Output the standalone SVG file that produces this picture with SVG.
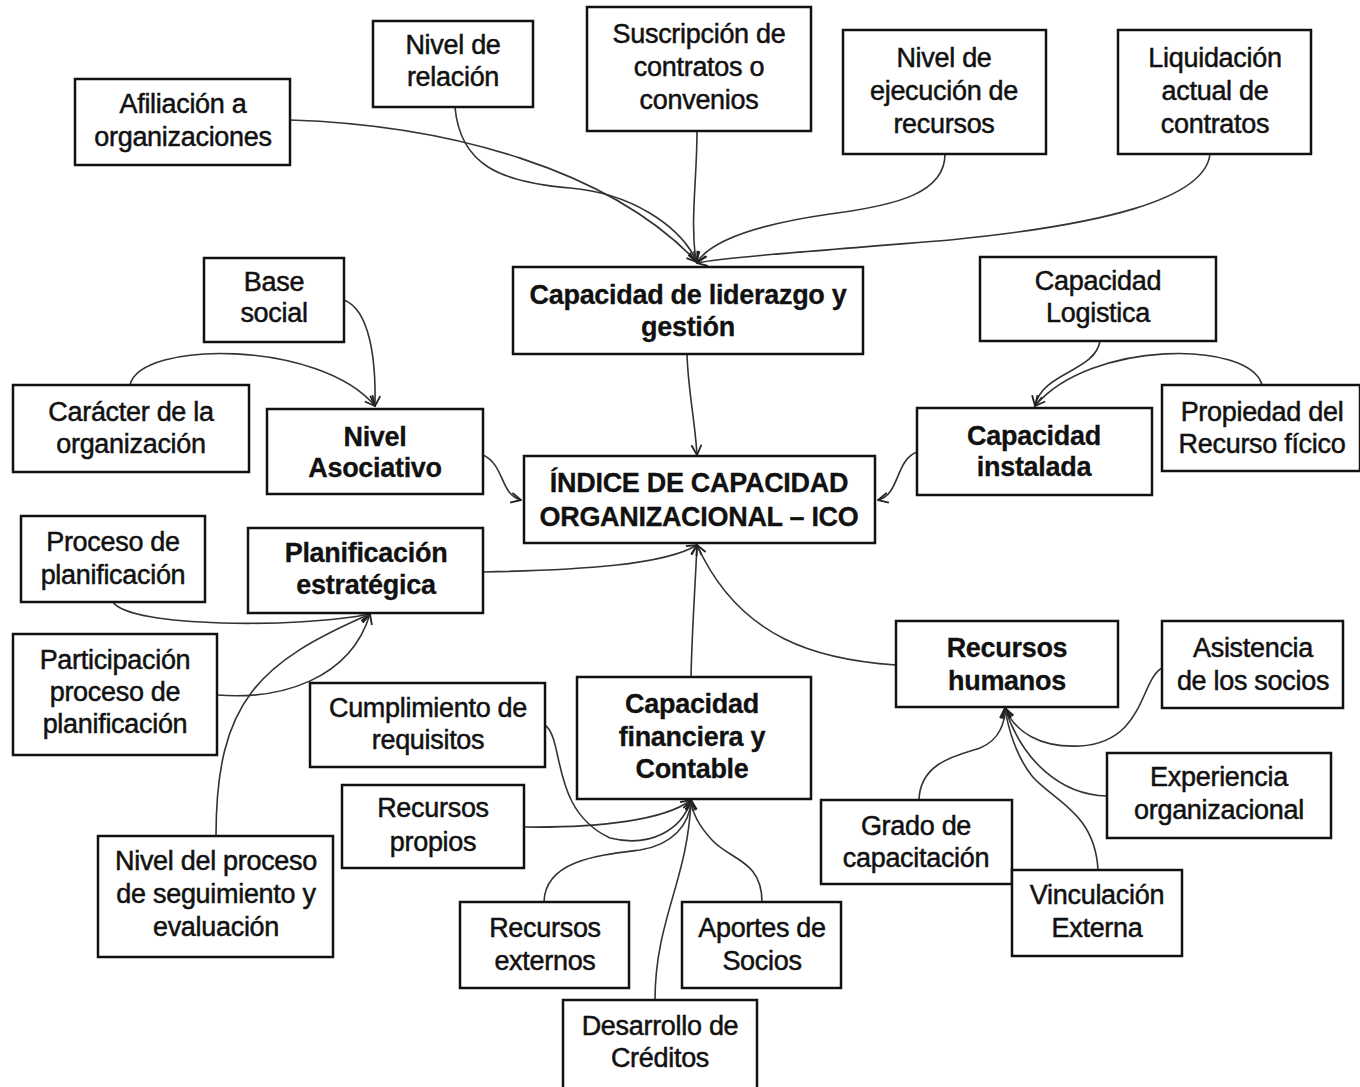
<svg xmlns="http://www.w3.org/2000/svg" width="1360" height="1087" viewBox="0 0 1360 1087">
<style>
.box{fill:#fff;stroke:#111;stroke-width:2.5}
text{font-family:"Liberation Sans",Arial,sans-serif;font-size:27px;fill:#111;text-anchor:middle;letter-spacing:-0.3px;stroke:#111;stroke-width:0.5}
.b{font-weight:bold;stroke-width:0.3}
.c{fill:none;stroke:#333;stroke-width:1.6}
</style>
<defs>
<marker id="ah" viewBox="0 0 12 12" refX="11" refY="6" markerWidth="12" markerHeight="12" markerUnits="userSpaceOnUse" orient="auto">
<path d="M1,1 L11,6 L1,11" fill="none" stroke="#222" stroke-width="1.8"/>
</marker>
</defs>
<rect width="1360" height="1087" fill="#fff"/>
<g id="connectors">
<path class="c" d="M290,120 C 450,125 610,170 697,262" marker-end="url(#ah)"/>
<path class="c" d="M455,107 C 460,165 500,182 570,188 C 630,193 680,225 697,262" marker-end="url(#ah)"/>
<path class="c" d="M697,131 C 697,180 690,220 696,262" marker-end="url(#ah)"/>
<path class="c" d="M945,154 C 945,192 900,205 830,214 C 760,224 712,240 697,262" marker-end="url(#ah)"/>
<path class="c" d="M1210,154 C 1205,200 1100,225 950,240 C 800,252 720,258 697,263" marker-end="url(#ah)"/>
<path class="c" d="M687,354 C 688,390 695,420 697,455" marker-end="url(#ah)"/>
<path class="c" d="M344,300 C 370,310 376,360 375,406" marker-end="url(#ah)"/>
<path class="c" d="M130,385 C 140,340 320,340 375,406" marker-end="url(#ah)"/>
<path class="c" d="M483,455 C 505,465 500,495 521,500" marker-end="url(#ah)"/>
<path class="c" d="M917,452 C 895,460 900,495 878,500" marker-end="url(#ah)"/>
<path class="c" d="M1100,341 C 1095,372 1042,372 1035,406" marker-end="url(#ah)"/>
<path class="c" d="M1262,385 C 1250,340 1090,340 1035,406" marker-end="url(#ah)"/>
<path class="c" d="M483,572 C 580,570 665,565 697,545" marker-end="url(#ah)"/>
<path class="c" d="M691,677 C 692,630 695,590 697,545" marker-end="url(#ah)"/>
<path class="c" d="M896,665 C 820,660 740,640 697,545" marker-end="url(#ah)"/>
<path class="c" d="M113,602 C 130,628 300,628 370,614" marker-end="url(#ah)"/>
<path class="c" d="M217,695 C 280,700 350,680 370,614" marker-end="url(#ah)"/>
<path class="c" d="M216,836 C 216,700 260,662 370,614" marker-end="url(#ah)"/>
<path class="c" d="M545,725 C 565,740 550,810 610,838 C 650,848 682,830 691,800" marker-end="url(#ah)"/>
<path class="c" d="M524,827 C 600,828 665,820 691,800" marker-end="url(#ah)"/>
<path class="c" d="M544,902 C 545,860 600,855 640,850 C 672,845 690,825 691,800" marker-end="url(#ah)"/>
<path class="c" d="M762,902 C 762,860 730,860 712,840 C 698,825 692,812 691,800" marker-end="url(#ah)"/>
<path class="c" d="M655,1000 C 655,920 688,880 691,800" marker-end="url(#ah)"/>
<path class="c" d="M1162,668 C 1140,680 1145,742 1080,746 C 1040,748 1015,732 1005,708" marker-end="url(#ah)"/>
<path class="c" d="M1107,796 C 1060,795 1022,760 1005,708" marker-end="url(#ah)"/>
<path class="c" d="M919,800 C 920,762 958,755 980,748 C 1000,740 1005,722 1005,708" marker-end="url(#ah)"/>
<path class="c" d="M1098,870 C 1095,812 1052,800 1032,776 C 1016,756 1008,728 1005,708" marker-end="url(#ah)"/>
</g>
<g id="n-afiliacion"><rect class="box" x="75" y="79" width="215" height="86"/><text x="183" y="113">Afiliación a</text><text x="183" y="146">organizaciones</text></g>
<g id="n-relacion"><rect class="box" x="373" y="21" width="160" height="86"/><text x="453" y="54">Nivel de</text><text x="453" y="86">relación</text></g>
<g id="n-suscripcion"><rect class="box" x="587" y="7" width="224" height="124"/><text x="699" y="43">Suscripción de</text><text x="699" y="76">contratos o</text><text x="699" y="109">convenios</text></g>
<g id="n-ejecucion"><rect class="box" x="843" y="30" width="203" height="124"/><text x="944" y="67">Nivel de</text><text x="944" y="100">ejecución de</text><text x="944" y="133">recursos</text></g>
<g id="n-liquidacion"><rect class="box" x="1118" y="30" width="193" height="124"/><text x="1215" y="67">Liquidación</text><text x="1215" y="100">actual de</text><text x="1215" y="133">contratos</text></g>
<g id="n-liderazgo"><rect class="box" x="513" y="267" width="350" height="87"/><text class="b" x="688" y="304">Capacidad de liderazgo y</text><text class="b" x="688" y="336">gestión</text></g>
<g id="n-base"><rect class="box" x="204" y="258" width="140" height="84"/><text x="274" y="291">Base</text><text x="274" y="322">social</text></g>
<g id="n-caracter"><rect class="box" x="13" y="385" width="236" height="87"/><text x="131" y="421">Carácter de la</text><text x="131" y="453">organización</text></g>
<g id="n-asociativo"><rect class="box" x="267" y="409" width="216" height="85"/><text class="b" x="375" y="446">Nivel</text><text class="b" x="375" y="477">Asociativo</text></g>
<g id="n-ico"><rect class="box" x="524" y="456" width="351" height="87"/><text class="b" x="699" y="492">ÍNDICE DE CAPACIDAD</text><text class="b" x="699" y="526">ORGANIZACIONAL – ICO</text></g>
<g id="n-logistica"><rect class="box" x="980" y="257" width="236" height="84"/><text x="1098" y="290">Capacidad</text><text x="1098" y="322">Logistica</text></g>
<g id="n-instalada"><rect class="box" x="917" y="408" width="235" height="87"/><text class="b" x="1034" y="445">Capacidad</text><text class="b" x="1034" y="476">instalada</text></g>
<g id="n-propiedad"><rect class="box" x="1162" y="385" width="198" height="86"/><text x="1262" y="421">Propiedad del</text><text x="1262" y="453">Recurso fícico</text></g>
<g id="n-proceso"><rect class="box" x="21" y="516" width="184" height="86"/><text x="113" y="551">Proceso de</text><text x="113" y="584">planificación</text></g>
<g id="n-planificacion"><rect class="box" x="248" y="528" width="235" height="85"/><text class="b" x="366" y="562">Planificación</text><text class="b" x="366" y="594">estratégica</text></g>
<g id="n-participacion"><rect class="box" x="13" y="634" width="204" height="121"/><text x="115" y="669">Participación</text><text x="115" y="701">proceso de</text><text x="115" y="733">planificación</text></g>
<g id="n-seguimiento"><rect class="box" x="98" y="836" width="235" height="121"/><text x="216" y="870">Nivel del proceso</text><text x="216" y="903">de seguimiento y</text><text x="216" y="936">evaluación</text></g>
<g id="n-cumplimiento"><rect class="box" x="310" y="683" width="235" height="84"/><text x="428" y="717">Cumplimiento de</text><text x="428" y="749">requisitos</text></g>
<g id="n-propios"><rect class="box" x="342" y="785" width="182" height="83"/><text x="433" y="817">Recursos</text><text x="433" y="851">propios</text></g>
<g id="n-financiera"><rect class="box" x="577" y="677" width="234" height="122"/><text class="b" x="692" y="713">Capacidad</text><text class="b" x="692" y="746">financiera y</text><text class="b" x="692" y="778">Contable</text></g>
<g id="n-externos"><rect class="box" x="460" y="902" width="169" height="86"/><text x="545" y="937">Recursos</text><text x="545" y="970">externos</text></g>
<g id="n-aportes"><rect class="box" x="682" y="902" width="159" height="86"/><text x="762" y="937">Aportes de</text><text x="762" y="970">Socios</text></g>
<g id="n-creditos"><rect class="box" x="563" y="1000" width="194" height="90"/><text x="660" y="1035">Desarrollo de</text><text x="660" y="1067">Créditos</text></g>
<g id="n-humanos"><rect class="box" x="896" y="621" width="222" height="86"/><text class="b" x="1007" y="657">Recursos</text><text class="b" x="1007" y="690">humanos</text></g>
<g id="n-asistencia"><rect class="box" x="1162" y="621" width="181" height="87"/><text x="1253" y="657">Asistencia</text><text x="1253" y="690">de los socios</text></g>
<g id="n-experiencia"><rect class="box" x="1107" y="753" width="224" height="85"/><text x="1219" y="786">Experiencia</text><text x="1219" y="819">organizacional</text></g>
<g id="n-grado"><rect class="box" x="821" y="800" width="191" height="84"/><text x="916" y="835">Grado de</text><text x="916" y="867">capacitación</text></g>
<g id="n-vinculacion"><rect class="box" x="1012" y="870" width="170" height="86"/><text x="1097" y="904">Vinculación</text><text x="1097" y="937">Externa</text></g>
</svg>
